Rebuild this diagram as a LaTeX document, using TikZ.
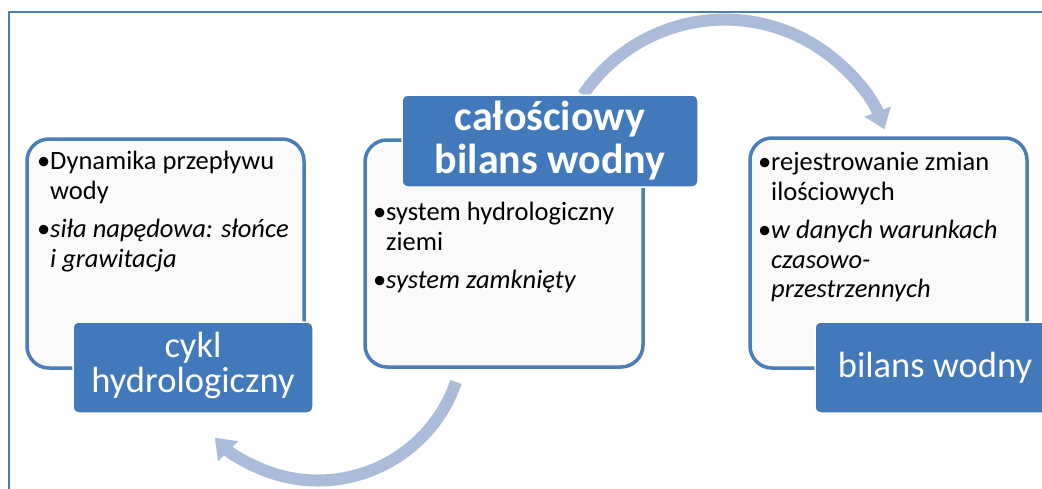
\documentclass[tikz,border=0pt]{standalone}
\usepackage{fontspec}
\setmainfont{Carlito}
\usetikzlibrary{arrows.meta}
\definecolor{ramka}{RGB}{74,126,187}
\definecolor{etykieta}{RGB}{66,121,187}
\definecolor{strzalka}{RGB}{171,188,218}
\definecolor{tlo}{RGB}{250,250,250}
\newcommand{\pkt}{\par\noindent\hangindent=13pt\hangafter=1\makebox[13pt][l]{•}}
\tikzset{
	panel/.style={draw=ramka, line width=3.5pt, fill=tlo, rounded corners=22pt, inner sep=0pt},
	etyk/.style={draw=white, line width=1.5pt, fill=etykieta, rounded corners=6pt, text=white, align=center, inner sep=0pt},
	opis/.style={anchor=north west, text width=280pt, align=flush left, inner sep=0pt, font=\fontsize{26.5}{29.5}\selectfont\setlength{\parskip}{9pt}},
	luk/.style={strzalka, line width=12pt, -{Triangle[width=27pt,length=19pt]}}
}
\begin{document}
\begin{tikzpicture}[x=1pt, y=-1pt, line join=round]
	\useasboundingbox (0,0) rectangle (1042,488);
	% ramka
	\draw[ramka, line width=2.5pt] (9,490) -- (9,12) -- (1044,12);
	% strzalki
	\coordinate (lukA) at (583,95);
	\coordinate (lukB) at (456,382);
	\draw[luk] (lukA) arc[start angle=-146, end angle=-21, radius=171];
	\draw[luk] (lukB) arc[start angle=19, end angle=135, radius=146];
	% panele
	\node[panel, minimum width=277, minimum height=229] (cyklbox) at (165.5,253.5) {};
	\node[panel, minimum width=278, minimum height=227] (calbox) at (504,253.5) {};
	\node[panel, minimum width=277, minimum height=230] (bilbox) at (888.5,253) {};
	\node[opis] (cykltxt) at (37,131) {\pkt Dynamika przepływu\newline wody
		\pkt{\itshape siła napędowa: słońce\newline i grawitacja}\par};
	\node[opis] (caltxt) at (373,182) {\pkt system hydrologiczny\newline ziemi
		\pkt{\itshape system zamknięty}\par};
	\node[opis] (biltxt) at (758,132) {\pkt rejestrowanie zmian\newline ilościowych
		\pkt{\itshape w danych warunkach\newline czasowo-\newline przestrzennych}\par};
	% etykiety
	\node[etyk, minimum width=240, minimum height=91, font=\fontsize{36.5}{37}\selectfont] (cykl) at (193,367.5) {\raisebox{-8pt}{\begin{tabular}{@{}c@{}}cykl\\[-2pt]hydrologiczny\end{tabular}}};
	\node[etyk, minimum width=296, minimum height=92, font=\fontsize{42}{43}\selectfont\bfseries] (cal) at (550,141) {całościowy\\bilans wodny};
	\node[etyk, minimum width=240, minimum height=91, font=\fontsize{36.5}{37}\selectfont] (bil) at (935,367.5) {bilans wodny};
\end{tikzpicture}
\end{document}
